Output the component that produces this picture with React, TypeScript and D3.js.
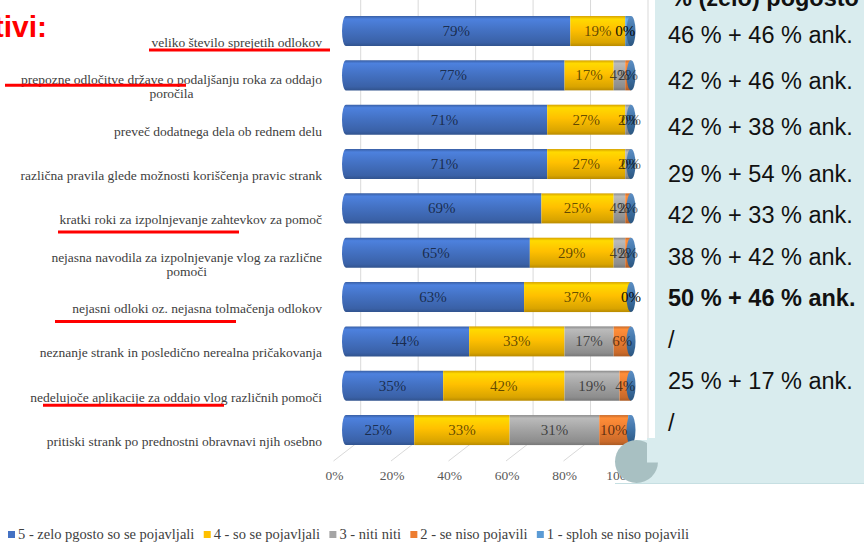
import React from "react";
import * as d3 from "d3";

const categories = [
  "veliko število sprejetih odlokov",
  "prepozne odločitve države o podaljšanju roka za oddajo\nporočila",
  "preveč dodatnega dela ob rednem delu",
  "različna pravila glede možnosti koriščenja pravic strank",
  "kratki roki za izpolnjevanje zahtevkov za pomoč",
  "nejasna navodila za izpolnjevanje vlog za različne\npomoči",
  "nejasni odloki oz. nejasna tolmačenja odlokov",
  "neznanje strank in posledično nerealna pričakovanja",
  "nedelujoče aplikacije za oddajo vlog različnih pomoči",
  "pritiski strank po prednostni obravnavi njih osebno",
];

const s5 = [79, 77, 71, 71, 69, 65, 63, 44, 35, 25];
const s4 = [19, 17, 27, 27, 25, 29, 37, 33, 42, 33];
const s3 = [0, 4, 2, 2, 4, 4, 0, 17, 19, 31];
const s2 = [0, 2, 0, 0, 2, 2, 0, 6, 4, 10];
const s1 = [2, 0, 0, 0, 0, 0, 0, 0, 0, 1];

const seriesNames = [
  "5 - zelo pgosto so se pojavljali",
  "4 - so se pojavljali",
  "3 - niti niti",
  "2 - se niso pojavili",
  "1 - sploh se niso pojavili",
];
const seriesColors = ["#4472c4", "#ffc000", "#a5a5a5", "#ed7d31", "#5b9bd5"];

const xTicks = [0, 20, 40, 60, 80, 100];

const titleText = "tivi:";
const panelHeader = "% (zelo) pogosto";
const panelLines = [
  "46 % + 46 % ank.",
  "42 % + 46 % ank.",
  "42 % + 38 % ank.",
  "29 % + 54 % ank.",
  "42 % + 33 % ank.",
  "38 % + 42 % ank.",
  "50 % + 46 % ank.",
  "/",
  "25 % + 17 % ank.",
  "/",
];
const panelBoldRow = 6;

// hand-drawn red underlines: row, start x, vertical offset from label centre
const highlightRows = [0, 1, 4, 6, 8];
const highlightStart = [149, 5, 58, 55, 43];
const highlightDy = [7.5, -1.5, 12, 13, 8];

const SERIF = "'Liberation Serif', 'Times New Roman', serif";
const SANS = "'Liberation Sans', Arial, sans-serif";

let ctx: CanvasRenderingContext2D | null = null;
function textWidth(t: string, font: string) {
  if (!ctx) ctx = document.createElement("canvas").getContext("2d");
  if (!ctx) return t.length * 6;
  ctx.font = font;
  return ctx.measureText(t).width;
}

export default function App() {
  const W = 864;
  const H = 544;
  const series = [s5, s4, s3, s2, s1];

  const x = d3.scaleLinear().domain([0, 100]).range([342, 631]);
  const backX = d3.scaleLinear().domain([0, 100]).range([360.7, 648]);
  const frontX = d3.scaleLinear().domain([0, 100]).range([333.5, 621]);
  const y = d3
    .scaleBand<number>()
    .domain(categories.map((_, i) => i))
    .range([1.7, 459.4])
    .padding(0.323);
  const bw = y.bandwidth();
  const floorBack = 440;
  const floorFront = 461;
  const labelRight = 322;
  const labelOffset = 11.5;
  const catFont = `13.5px ${SERIF}`;

  const panelY = d3.scaleLinear().domain([0, 3, 9]).range([34, 173, 422]);
  const panelColor = "#d9ecee";

  // legend layout
  const legSize = 14.5;
  const legFont = `${legSize}px ${SERIF}`;
  const legW = seriesNames.map((n) => 11 + textWidth(n, legFont));
  const legStart = 8;
  const legEnd = 690;
  const gap = (legEnd - legStart - d3.sum(legW)) / (seriesNames.length - 1);
  const legX: number[] = [];
  let acc = legStart;
  legW.forEach((w) => {
    legX.push(acc);
    acc += w + gap;
  });

  const grads = seriesColors.map((c, i) => {
    const base = d3.color(c)!;
    return (
      <linearGradient key={i} id={`g${i}`} x1="0" y1="0" x2="0" y2="1">
        <stop offset="0" stopColor={base.darker(0.5).formatHex()} />
        <stop offset="0.1" stopColor={base.brighter(0.35).formatHex()} />
        <stop offset="0.45" stopColor={base.formatHex()} />
        <stop offset="0.88" stopColor={base.darker(0.45).formatHex()} />
        <stop offset="1" stopColor={base.darker(0.9).formatHex()} />
      </linearGradient>
    );
  });

  return (
    <svg width={W} height={H} style={{ display: "block", position: "absolute", left: 0, top: 0 }}>
      <defs>
        {grads}
        <linearGradient id="cap" x1="0" y1="0" x2="0" y2="1">
          <stop offset="0" stopColor="#5d8fc4" />
          <stop offset="0.5" stopColor="#3f72a6" />
          <stop offset="1" stopColor="#2b5680" />
        </linearGradient>
      </defs>
      <rect width={W} height={H} fill="#ffffff" />

      {/* back wall gridlines */}
      {xTicks.map((t) => (
        <line key={`g${t}`} x1={backX(t)} x2={backX(t)} y1={0} y2={floorBack} stroke="#d9d9d9" strokeWidth={1} />
      ))}
      {/* floor lines */}
      {xTicks.map((t) => (
        <line key={`f${t}`} x1={frontX(t)} x2={backX(t)} y1={floorFront} y2={floorBack} stroke="#d9d9d9" strokeWidth={1} />
      ))}

      {/* bars */}
      {categories.map((_, r) => {
        const top = y(r)!;
        const bottom = top + bw;
        const cy = top + bw / 2;
        let cum = 0;
        const segs = series.map((s, si) => {
          const v = s[r];
          const x0 = x(cum);
          const x1 = x(cum + v);
          cum += v;
          if (v <= 0) return null;
          if (si === 0) {
            const d = `M${x0 + 4},${top} L${x1},${top} L${x1},${bottom} L${x0 + 4},${bottom} A4,${bw / 2} 0 0 1 ${x0 + 4},${top} Z`;
            return <path key={si} d={d} fill={`url(#g${si})`} />;
          }
          return <rect key={si} x={x0} y={top} width={x1 - x0} height={bw} fill={`url(#g${si})`} />;
        });
        let c2 = 0;
        const labels = series.slice(0, 4).map((s, si) => {
          const v = s[r];
          const lx = x(c2 + v / 2);
          c2 += v;
          return (
            <text key={`l${si}`} x={lx} y={cy + 5} textAnchor="middle" fontFamily={SERIF} fontSize={15} fill="#000" fillOpacity={0.62}>
              {`${v}%`}
            </text>
          );
        });
        return (
          <g key={r}>
            {segs}
            <ellipse cx={x(100)} cy={cy} rx={4.5} ry={bw / 2} fill="url(#cap)" />
            {labels}
          </g>
        );
      })}

      {/* category labels */}
      {categories.map((c, r) => {
        const lines = c.split("\n");
        const cy = y(r)! + bw / 2 + labelOffset;
        if (lines.length === 1) {
          return (
            <text key={`c${r}`} x={labelRight} y={cy + 4.5} textAnchor="end" fontFamily={SERIF} fontSize={13.5} fill="#404040">
              {c}
            </text>
          );
        }
        const w1 = textWidth(lines[0], catFont);
        const mid = labelRight - w1 / 2;
        return (
          <g key={`c${r}`}>
            {lines.map((ln, li) => (
              <text key={li} x={mid} y={cy + 4.5 + (li - 0.5) * 14} textAnchor="middle" fontFamily={SERIF} fontSize={13.5} fill="#404040">
                {ln}
              </text>
            ))}
          </g>
        );
      })}

      {/* red underlines */}
      {highlightRows.map((r, i) => {
        const yy = y(r)! + bw / 2 + labelOffset + highlightDy[i];
        return (
          <line key={`h${i}`} x1={highlightStart[i]} x2={highlightStart[i] + 181} y1={yy} y2={yy} stroke="#ff0000" strokeWidth={3} />
        );
      })}

      {/* axis labels */}
      {xTicks.map((t) => (
        <text key={`a${t}`} x={frontX(t) + 1} y={480} textAnchor="middle" fontFamily={SERIF} fontSize={13.5} fill="#595959">
          {`${t}%`}
        </text>
      ))}

      {/* title fragment */}
      <text x={47} y={37} textAnchor="end" fontFamily={SANS} fontWeight="bold" fontSize={30} fill="#ff0000">
        {titleText}
      </text>

      {/* right panel */}
      <rect x={655} y={0} width={W - 655} height={483} fill={panelColor} />
      <line x1={615} x2={W} y1={483.5} y2={483.5} stroke="#c6dfe2" strokeWidth={1} />
      <rect x={636} y={440} width={20} height={43} fill={panelColor} />
      <circle cx={636.5} cy={461.5} r={21.5} fill="#a8c0c2" />
      <rect x={647} y={438} width={12} height={24.5} fill={panelColor} />
      <text x={671} y={6} fontFamily={SANS} fontWeight="bold" fontSize={23.5} fill="#111">
        {panelHeader}
      </text>
      {panelLines.map((t, i) => (
        <text
          key={`p${i}`}
          x={668}
          y={panelY(i) + 8.5}
          fontFamily={SANS}
          fontSize={23.5}
          fontWeight={i === panelBoldRow ? "bold" : "normal"}
          fill="#111"
        >
          {t}
        </text>
      ))}

      {/* legend */}
      {seriesNames.map((n, i) => (
        <g key={`lg${i}`}>
          <rect x={legX[i]} y={531} width={7} height={7} fill={seriesColors[i]} />
          <text x={legX[i] + 10} y={539} fontFamily={SERIF} fontSize={legSize} fill="#404040">
            {n}
          </text>
        </g>
      ))}
    </svg>
  );
}
